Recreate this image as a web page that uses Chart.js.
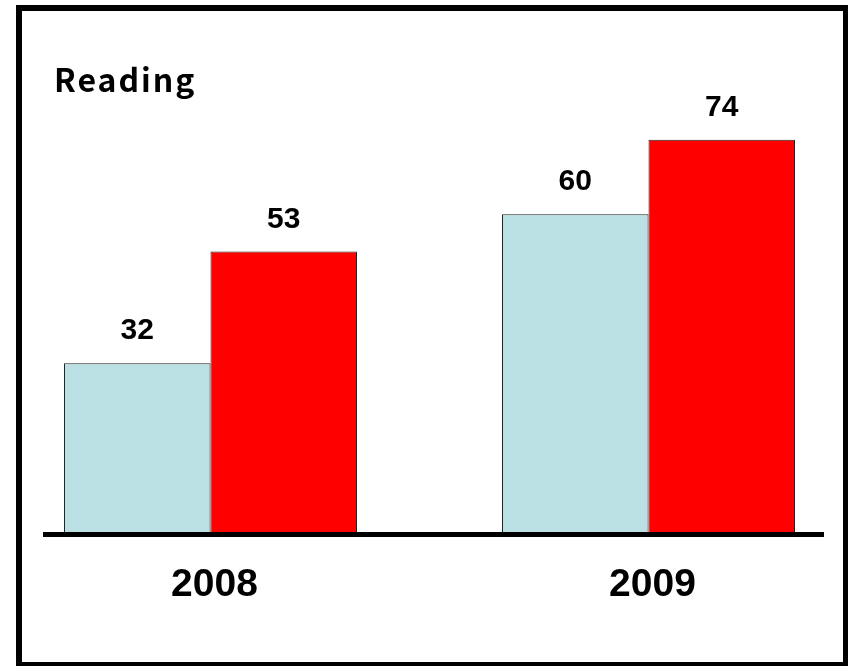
<!DOCTYPE html>
<html>
<head>
<meta charset="utf-8">
<script src="https://cdn.jsdelivr.net/npm/chart.js@4.4.1/dist/chart.umd.min.js"></script>
<style>
  html, body { margin: 0; padding: 0; background: #fff; }
  #wrap { width: 848px; height: 666px; position: relative; }
</style>
</head>
<body>
<div id="wrap"><canvas id="chart" width="848" height="666"></canvas></div>
<script>
// chart data
var title = 'Reading';
var years = ['2008', '2009'];
var seriesA = [32, 60];   // light blue bars
var seriesB = [53, 74];   // red bars

// frame, baseline, title, value labels and year labels
var decor = {
    id: 'decor',
    beforeDraw: function (chart) {
        var ctx = chart.ctx;
        ctx.save();
        ctx.fillStyle = '#fff';
        ctx.fillRect(0, 0, chart.width, chart.height);
        ctx.strokeStyle = '#000';
        ctx.lineWidth = 6;
        ctx.strokeRect(19, 8, 827, 657);
        ctx.fillStyle = '#000';
        ctx.font = 'bold 32px "Noto Sans CJK JP", "Noto Sans", sans-serif';
        ctx.letterSpacing = '2px';
        ctx.textAlign = 'left';
        ctx.textBaseline = 'alphabetic';
        ctx.fillText(title, 54, 92);
        ctx.restore();
    },
    afterDatasetsDraw: function (chart) {
        var ctx = chart.ctx;
        var xs = chart.scales.x;
        var ys = chart.scales.y;
        ctx.save();
        // baseline
        var y0 = ys.getPixelForValue(0) + 1;
        ctx.fillStyle = '#000';
        ctx.fillRect(xs.getPixelForValue(0) - 167.5, y0 - 2.5, 781, 5);
        // value labels
        ctx.font = 'bold 30px "Liberation Sans", Arial, sans-serif';
        ctx.textAlign = 'center';
        ctx.textBaseline = 'alphabetic';
        chart.data.datasets.forEach(function (ds, di) {
            chart.getDatasetMeta(di).data.forEach(function (bar, i) {
                ctx.fillText(String(ds.data[i]), bar.x, bar.y - 24);
            });
        });
        // year labels
        ctx.font = 'bold 39px "Liberation Sans", Arial, sans-serif';
        years.forEach(function (yr, i) {
            ctx.fillText(yr, xs.getPixelForValue(i) + 4, 596);
        });
        ctx.restore();
    }
};

new Chart(document.getElementById('chart'), {
    type: 'bar',
    data: {
        labels: years,
        datasets: [
            { label: 'A', data: seriesA, backgroundColor: '#BBE0E3', borderColor: '#222', borderWidth: 1, clip: false },
            { label: 'B', data: seriesB, backgroundColor: '#FF0000', borderColor: '#222', borderWidth: 1, clip: false }
        ]
    },
    options: {
        responsive: false,
        animation: false,
        layout: { padding: { left: 210.5, right: 199.5, top: 54.7, bottom: 132.5 } },
        categoryPercentage: 0.669,
        barPercentage: 1,
        plugins: {
            legend: { display: false },
            tooltip: { enabled: false },
            title: { display: false }
        },
        scales: {
            x: { display: false, offset: false, grid: { offset: false } },
            y: { display: false, min: 0, max: 90 }
        }
    },
    plugins: [decor]
});
</script>
</body>
</html>
